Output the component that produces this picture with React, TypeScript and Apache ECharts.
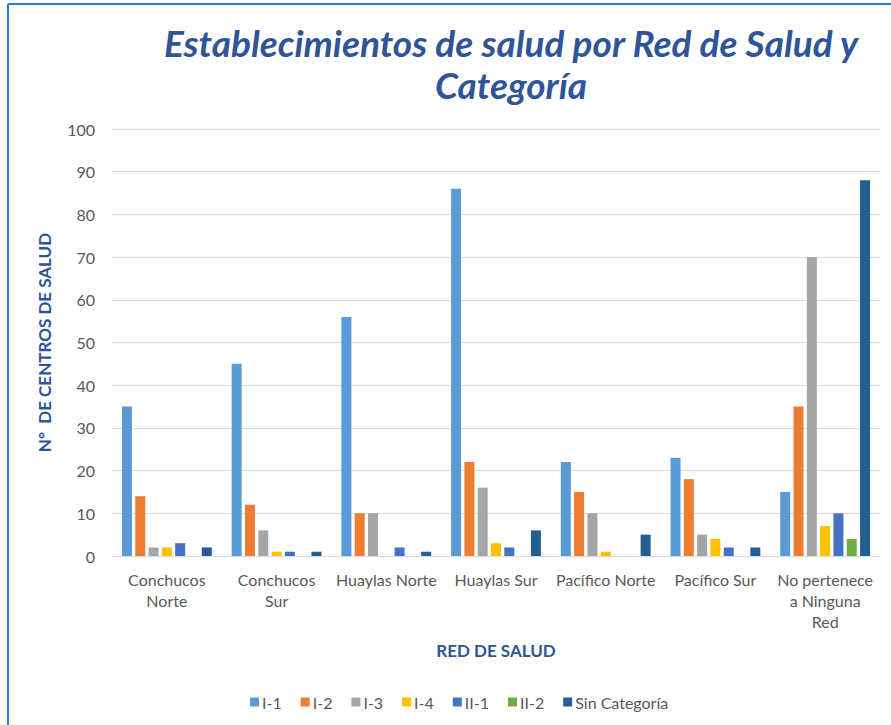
import React, { useEffect, useRef } from "react";
import * as echarts from "echarts";

const categories = [
  "Conchucos\nNorte",
  "Conchucos\nSur",
  "Huaylas Norte",
  "Huaylas Sur",
  "Pacífico Norte",
  "Pacífico Sur",
  "No pertenece\na Ninguna\nRed",
];

const seriesNames = ["I-1", "I-2", "I-3", "I-4", "II-1", "II-2", "Sin Categoría"];
const seriesColors = ["#5B9BD5", "#ED7D31", "#A5A5A5", "#FFC000", "#4472C4", "#70AD47", "#255E91"];

const i1 = [35, 45, 56, 86, 22, 23, 15];
const i2 = [14, 12, 10, 22, 15, 18, 35];
const i3 = [2, 6, 10, 16, 10, 5, 70];
const i4 = [2, 1, 0, 3, 1, 4, 7];
const ii1 = [3, 1, 2, 2, 0, 2, 10];
const ii2 = [0, 0, 0, 0, 0, 0, 4];
const sinCat = [2, 1, 1, 6, 5, 2, 88];

const seriesData = [i1, i2, i3, i4, ii1, ii2, sinCat];

const FONT = "Lato, 'Open Sans', sans-serif";

export default function App() {
  const ref = useRef<HTMLDivElement>(null);
  useEffect(() => {
    if (!ref.current) return;
    const chart = echarts.init(ref.current, undefined, { renderer: "svg" });
    chart.setOption({
      animation: false,
      backgroundColor: "#ffffff",
      title: {
        text: "Establecimientos de salud por Red de Salud y\nCategoría",
        left: 506,
        top: 16,
        textAlign: "center",
        textStyle: {
          fontFamily: FONT,
          fontSize: 37,
          fontWeight: "bold",
          fontStyle: "italic",
          color: "#2F5597",
          lineHeight: 42,
        },
      },
      graphic: [
        { type: "line", shape: { x1: 8, y1: 4, x2: 891, y2: 4 }, style: { stroke: "#2E7CC9", lineWidth: 2 } },
        { type: "line", shape: { x1: 8, y1: 4, x2: 8, y2: 725 }, style: { stroke: "#2E7CC9", lineWidth: 2 } },
      ],
      legend: {
        data: seriesNames,
        left: 245,
        top: 689,
        itemWidth: 9,
        itemHeight: 9,
        itemGap: 19,
        icon: "rect",
        textStyle: { fontFamily: FONT, fontSize: 16, color: "#595959", padding: [0, 0, 0, -2] },
      },
      grid: { left: 112, right: 11, top: 129, bottom: 169, containLabel: false },
      xAxis: {
        type: "category",
        data: categories,
        axisTick: { show: false },
        axisLine: { lineStyle: { color: "#D9D9D9", width: 1 } },
        axisLabel: {
          fontFamily: FONT,
          fontSize: 16,
          color: "#595959",
          lineHeight: 21,
          margin: 13,
          interval: 0,
        },
        name: "RED DE SALUD",
        nameLocation: "middle",
        nameGap: 86,
        nameTextStyle: { fontFamily: FONT, fontSize: 17, fontWeight: "bold", color: "#2F5597" },
      },
      yAxis: {
        type: "value",
        min: 0,
        max: 100,
        interval: 10,
        axisLine: { show: false },
        axisTick: { show: false },
        splitLine: { lineStyle: { color: "#D9D9D9", width: 1 } },
        axisLabel: { fontFamily: FONT, fontSize: 16, color: "#595959", margin: 17 },
        name: "N°  DE CENTROS DE SALUD",
        nameLocation: "middle",
        nameGap: 59,
        nameRotate: 90,
        nameTextStyle: { fontFamily: FONT, fontSize: 17, fontWeight: "bold", color: "#2F5597" },
      },
      series: seriesNames.map((n, i) => ({
        name: n,
        type: "bar",
        data: seriesData[i],
        barWidth: 10,
        barGap: "33%",
        itemStyle: { color: seriesColors[i] },
      })),
    });
    return () => chart.dispose();
  }, []);
  return (
    <div
      ref={ref}
      style={{ position: "absolute", left: 0, top: 0, width: 891, height: 725 }}
    />
  );
}
